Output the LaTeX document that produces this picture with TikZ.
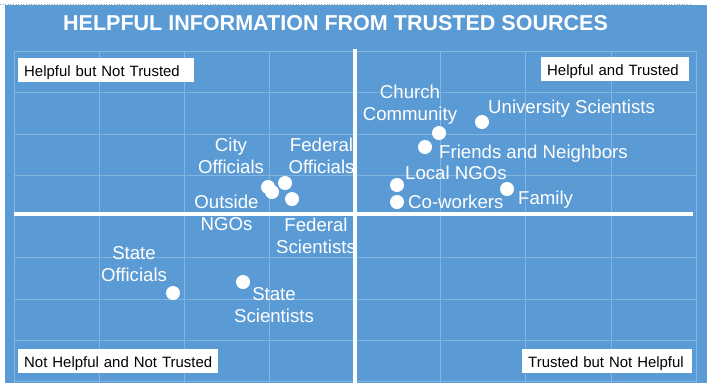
\documentclass[tikz,border=0pt]{standalone}
\usepackage{fontspec}
\setmainfont{Liberation Sans}
\definecolor{bgblue}{HTML}{5B9BD5}
\definecolor{gridblue}{HTML}{84B4E0}
\begin{document}
\begin{tikzpicture}[x=1bp,y=-1bp,
  dot/.style={circle,fill=white,inner sep=0pt,minimum size=14bp},
  lbl/.style={text=white,inner sep=0pt,font=\fontsize{18.7}{22}\selectfont,align=center,anchor=base},
  lblw/.style={text=white,inner sep=0pt,font=\fontsize{18.7}{22}\selectfont,anchor=base west},
  quad/.style={fill=white,inner xsep=6bp,inner ysep=0pt,minimum height=24bp,text height=14bp,text depth=2bp,align=left,anchor=north west,font=\fontsize{15}{18}\selectfont,text=black},
  gridline/.style={draw=gridblue,line width=0.8bp},
  axisline/.style={draw=white,line width=4bp}]
\useasboundingbox (0,0) rectangle (707,383);
\fill[white] (0,0) rectangle (707,383);
\draw[gray!70,dotted,line width=0.6bp] (0,4) -- (692,4);
\fill[bgblue] (5,5) rectangle (707,383);
% grid
\foreach \x in {14,99,184,269,440,525,611,696} \draw[gridline] (\x,51) -- (\x,383);
\foreach \y in {51,92,134,175,257,299,340,381} \draw[gridline] (14,\y) -- (696,\y);
% axes
\draw[axisline] (14,213.5) -- (693,213.5);
\draw[axisline] (355,49) -- (355,383);
% title
\node[anchor=base,text=white,inner sep=0pt,font=\bfseries\fontsize{21.6}{24}\selectfont] (title) at (335.5,30) {HELPFUL INFORMATION FROM TRUSTED SOURCES};
% quadrant boxes
\node[quad,text width=164bp] (q1) at (18,58) {Helpful but Not Trusted};
\node[quad,text width=136bp] (q2) at (541,57) {Helpful and Trusted};
\node[quad,text width=188bp] (q3) at (18,349) {Not Helpful and Not Trusted};
\node[quad,text width=158bp] (q4) at (522,349) {Trusted but Not Helpful};
% dots
\node[dot] (univ) at (482,122) {};
\node[dot] (church) at (439,133) {};
\node[dot] (friends) at (425,147) {};
\node[dot] (localngo) at (397,185) {};
\node[dot] (family) at (507,189) {};
\node[dot] (cowork) at (397,202) {};
\node[dot] (city) at (268,187) {};
\node[dot] (outside) at (272,192) {};
\node[dot] (fedoff) at (285,183) {};
\node[dot] (fedsci) at (292,199) {};
\node[dot] (stateoff) at (173,293) {};
\node[dot] (statesci) at (243,282) {};
% labels
\node[lblw] (univL) at (488,113) {University Scientists};
\node[lblw] (friendsL) at (439,158) {Friends and Neighbors};
\node[lblw] (localngoL) at (405,179) {Local NGOs};
\node[lblw] (familyL) at (518,204) {Family};
\node[lblw] (coworkL) at (408,208) {Co-workers};
\node[lbl] (churchL) at (410,120) {Church\\Community};
\node[lbl] (cityL) at (231,173) {City\\Officials};
\node[lbl] (fedoffL) at (321.5,173) {Federal\\Officials};
\node[lbl] (outsideL) at (226.5,230) {Outside\\NGOs};
\node[lbl] (fedsciL) at (316,253) {Federal\\Scientists};
\node[lbl] (stateoffL) at (134,281) {State\\Officials};
\node[lbl] (statesciL) at (274,322) {State\\Scientists};
\end{tikzpicture}
\end{document}
